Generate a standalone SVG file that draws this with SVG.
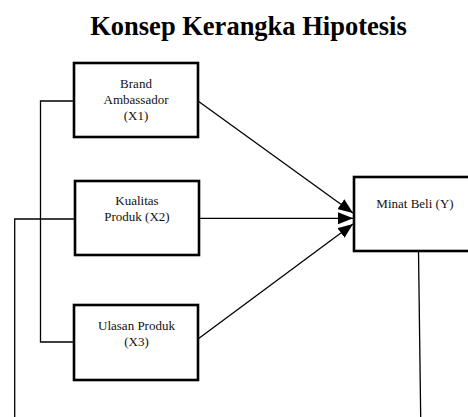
<svg xmlns="http://www.w3.org/2000/svg" width="468" height="417" viewBox="0 0 468 417">
<style>
.box{fill:#fff;stroke:#000;stroke-width:2.6}
.t{font-family:"Liberation Serif","Times New Roman",serif;font-size:13px;fill:#111;text-anchor:middle}
.title{font-family:"Liberation Serif","Times New Roman",serif;font-size:26.5px;font-weight:bold;fill:#000;text-anchor:middle}
.ln{fill:none;stroke:#000;stroke-width:1.3}
</style>
<defs>
<marker id="ah" markerUnits="userSpaceOnUse" markerWidth="16" markerHeight="12" refX="15" refY="6" orient="auto">
<path d="M0,0 L15,6 L0,12 Z" fill="#000"/>
</marker>
</defs>
<text class="title" x="248.5" y="35">Konsep Kerangka Hipotesis</text>
<g id="connectors">
<polyline class="ln" points="74,101 40.5,101 40.5,342 74,342"/>
<polyline class="ln" points="75,219 14.7,219 14.7,417"/>
<line class="ln" x1="418.5" y1="251" x2="420.7" y2="417"/>
<line class="ln" x1="198" y1="101" x2="353" y2="213" marker-end="url(#ah)"/>
<line class="ln" x1="199" y1="218.3" x2="353" y2="218.3" marker-end="url(#ah)"/>
<line class="ln" x1="198" y1="339" x2="353" y2="224" marker-end="url(#ah)"/>
</g>
<g id="x1">
<rect class="box" x="74" y="63" width="124" height="74"/>
<text class="t" x="136" y="88">Brand</text>
<text class="t" x="136" y="104">Ambassador</text>
<text class="t" x="136" y="120">(X1)</text>
</g>
<g id="x2">
<rect class="box" x="75" y="181" width="124" height="74"/>
<text class="t" x="137" y="205">Kualitas</text>
<text class="t" x="137" y="221">Produk (X2)</text>
</g>
<g id="x3">
<rect class="box" x="74" y="305" width="124" height="75"/>
<text class="t" x="136.5" y="330">Ulasan Produk</text>
<text class="t" x="136.5" y="346">(X3)</text>
</g>
<g id="y">
<rect class="box" x="354" y="177" width="120" height="74"/>
<text class="t" x="415" y="208">Minat Beli (Y)</text>
</g>
</svg>
